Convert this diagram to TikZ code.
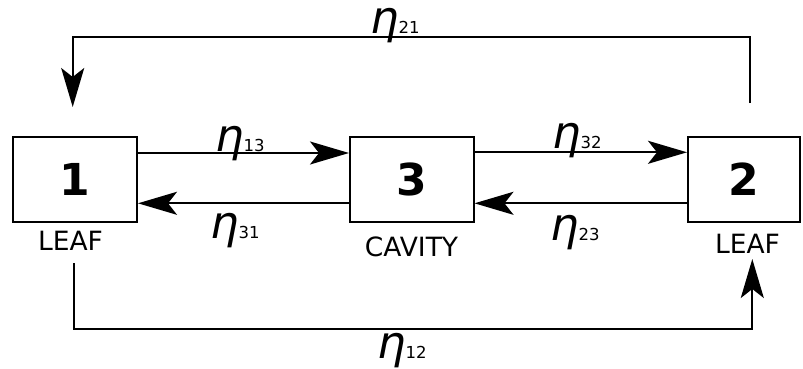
\documentclass[tikz,border=0pt]{standalone}
\usepackage{fontspec}
\setmainfont{DejaVu Sans}
\usetikzlibrary{arrows.meta}
\newcommand{\etalab}[1]{{\fontsize{45}{45}\selectfont\itshape η}{\fontsize{16.5}{16.5}\selectfont #1}}
\begin{document}
\begin{tikzpicture}[x=1pt,y=-1pt,
  box/.style={draw,line width=2pt,minimum height=85pt,inner sep=0pt,font=\fontsize{44}{44}\selectfont\bfseries},
  conn/.style={line width=2pt,-{Stealth[length=39pt,width=23pt,inset=9pt]}},
  lab/.style={inner sep=0pt,font=\fontsize{26.5}{26.5}\selectfont},
  eta/.style={anchor=base west,inner sep=0pt}]
\useasboundingbox (0,0) rectangle (803,369);
\node[box,minimum width=124pt] (b1) at (75,179.5) {1};
\node[box,minimum width=123.5pt] (b3) at (411.75,179.5) {3};
\node[box,minimum width=112pt] (b2) at (744,179.5) {2};
\node[lab] (leaf1) at (70.5,241) {LEAF};
\node[lab] (cav) at (411.5,247) {CAVITY};
\node[lab] (leaf2) at (747.5,244) {LEAF};
% horizontal arrows
\draw[conn] ([yshift=26.5pt]b1.east) -- ([yshift=26.5pt]b3.west);
\draw[conn] ([yshift=27.2pt]b3.east) -- ([yshift=27.2pt]b2.west);
\draw[conn] ([yshift=-23.8pt]b3.west) -- ([yshift=-23.8pt]b1.east);
\draw[conn] ([yshift=-23.8pt]b2.west) -- ([yshift=-23.8pt]b3.east);
% top loop
\coordinate (t2) at (750,103);
\coordinate (t1) at (72.7,107);
\draw[conn] (t2) -- ++(0,-66.3) -| (t1);
% bottom loop
\coordinate (s1) at (74,263);
\coordinate (s2) at (752.3,259);
\draw[conn] (s1) -- ++(0,66) -| (s2);
% labels
\node[eta] (e21) at (370,34) {\etalab{21}};
\node[eta] (e13) at (215,151) {\etalab{13}};
\node[eta] (e32) at (552,148) {\etalab{32}};
\node[eta] (e31) at (210,238) {\etalab{31}};
\node[eta] (e23) at (550,240) {\etalab{23}};
\node[eta] (e12) at (377,358) {\etalab{12}};
\end{tikzpicture}
\end{document}
